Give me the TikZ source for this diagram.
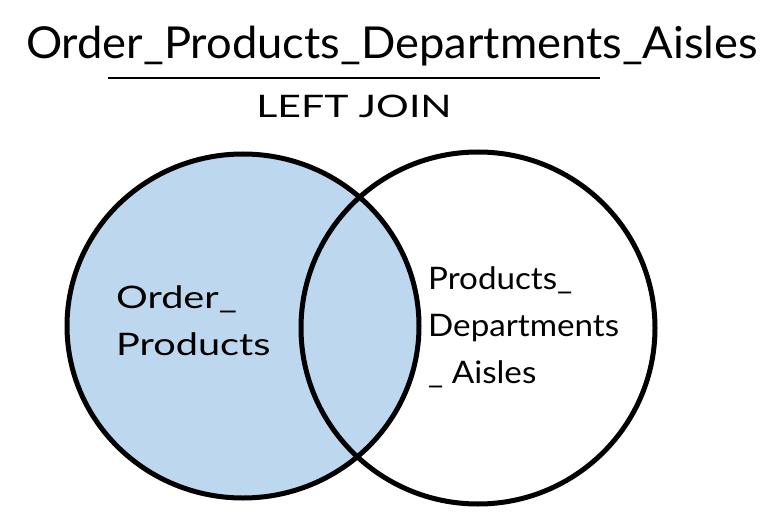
\documentclass[tikz,border=0pt]{standalone}
\usepackage{fontspec}
\setmainfont{Lato}
\definecolor{vennblue}{HTML}{BDD7EE}
\begin{document}
\begin{tikzpicture}[x=1pt,y=-1pt,
  ring/.style={line width=5pt,draw=black},
  lbl/.style={font=\fontsize{31}{47}\selectfont,align=left,inner sep=0pt,anchor=west}]
\useasboundingbox (0,0) rectangle (774,532);
\fill[vennblue] (243,326) ellipse [x radius=176,y radius=172];
\draw[ring] (478,328) ellipse [x radius=177,y radius=176];
\draw[ring] (243,326) ellipse [x radius=176,y radius=172];
\node[font=\fontsize{44}{48}\selectfont,inner sep=0pt] (title) at (392,46) {\scalebox{1.03}[1]{Order\_Products\_Departments\_Aisles}};
\coordinate (la) at (108,78);
\coordinate (lb) at (600,78);
\draw[line width=2pt] (la) -- (lb);
\node[font=\fontsize{31}{34}\selectfont,inner sep=0pt] (join) at (354,106) {\scalebox{1.32}[1]{LEFT JOIN}};
\node[lbl] (left) at (116,321) {\scalebox{1.28}[1]{Order\_}\\\scalebox{1.28}[1]{Products}};
\node[lbl] (right) at (428,327) {\scalebox{1.07}[1]{Products\_}\\\scalebox{1.07}[1]{Departments}\\\scalebox{1.07}[1]{\_ Aisles}};
\end{tikzpicture}
\end{document}
